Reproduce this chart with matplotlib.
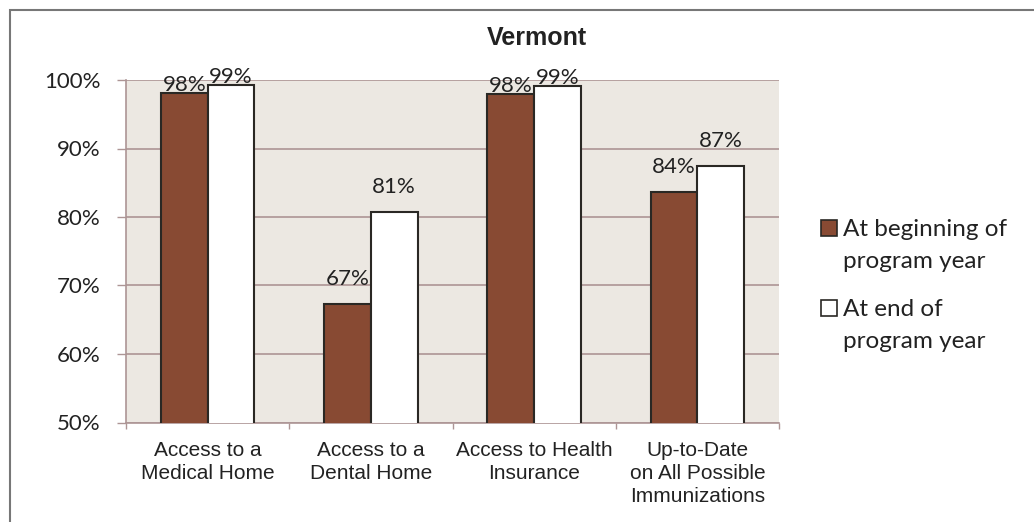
import matplotlib
matplotlib.use("Agg")
import matplotlib.pyplot as plt
import numpy as np
from matplotlib.patches import Rectangle

# Data
categories = ["Access to a\nMedical Home", "Access to a\nDental Home",
              "Access to Health\nInsurance", "Up-to-Date\non All Possible\nImmunizations"]
begin_vals = [98.1, 67.3, 98.0, 83.6]
end_vals = [99.3, 80.7, 99.1, 87.4]
series_names = ["At beginning of\nprogram year", "At end of\nprogram year"]
y_ticks = [50, 60, 70, 80, 90, 100]

brown = "#884A33"
edge = "#2A2824"
grid_col = "#AD9595"
bg_col = "#ECE8E2"
txt_col = "#222222"

W, H = 1034, 522
fig = plt.figure(figsize=(W / 100, H / 100), dpi=100)
ax = fig.add_axes([126 / W, (H - 422.5) / H, 653 / W, 342.5 / H])
ax.set_facecolor(bg_col)

x = np.arange(len(categories))
bw = 0.286
b1 = ax.bar(x - bw / 2, begin_vals, bw, color=brown, edgecolor=edge, linewidth=1.5, zorder=3)
b2 = ax.bar(x + bw / 2, end_vals, bw, color="white", edgecolor=edge, linewidth=1.5, zorder=3)

# data labels sit well above the bars, but get pushed down near the top of the plot
for bars in (b1, b2):
    for r in bars:
        v = r.get_height()
        dy = 14 if v < 95 else 1.5
        ax.annotate(f"{v:.0f}%", (r.get_x() + r.get_width() / 2, v),
                    xytext=(0, dy), textcoords="offset points",
                    ha="center", va="baseline", fontsize=16, family="Lato",
                    color=txt_col, zorder=4)

ax.set_ylim(50, 100)
ax.set_xlim(-0.5, len(categories) - 0.5)
ax.set_yticks(y_ticks)
ax.set_yticklabels([f"{t}%" for t in y_ticks], family="Lato", fontsize=16, color=txt_col)
ax.tick_params(axis="y", length=6.5, width=1, color=grid_col, pad=12)

ax.set_xticks(x)
ax.set_xticklabels(categories, family="Liberation Sans", fontsize=15, color=txt_col,
                   linespacing=1.27)
ax.set_xticks(np.arange(-0.5, len(categories), 1), minor=True)
ax.tick_params(axis="x", which="major", length=0, pad=13)
ax.tick_params(axis="x", which="minor", length=4.5, width=1, color=grid_col)

ax.yaxis.grid(True, color=grid_col, linewidth=1.2, zorder=0)
ax.set_axisbelow(True)
for s in ["top", "right"]:
    ax.spines[s].set_visible(False)
for s in ["left", "bottom"]:
    ax.spines[s].set_color(grid_col)
    ax.spines[s].set_linewidth(1.2)

# title
fig.text(537 / W, 1 - 45 / H, "Vermont", ha="center", va="baseline",
         family="Liberation Sans", fontweight="bold", fontsize=18, color=txt_col)

# legend drawn by hand so the square sits on the first line
leg_colors = [brown, "white"]
leg_tops = [220, 300]
for name, col, top in zip(series_names, leg_colors, leg_tops):
    fig.add_artist(Rectangle((821 / W, 1 - (top + 16) / H), 16 / W, 16 / H,
                             transform=fig.transFigure, facecolor=col,
                             edgecolor=edge, linewidth=1.2))
    for i, line in enumerate(name.split("\n")):
        fig.text(843 / W, 1 - (top + 16 + 32 * i) / H, line, ha="left", va="baseline",
                 family="Lato", fontsize=17.5, color=txt_col)

# outer chart border (right and bottom fall outside the picture)
fig.add_artist(Rectangle((9.5 / W, -0.2), 1.2, (H - 9.5) / H + 0.2,
                         transform=fig.transFigure, fill=False,
                         edgecolor="#777777", linewidth=1.5))

fig.savefig("out.png", dpi=100)
